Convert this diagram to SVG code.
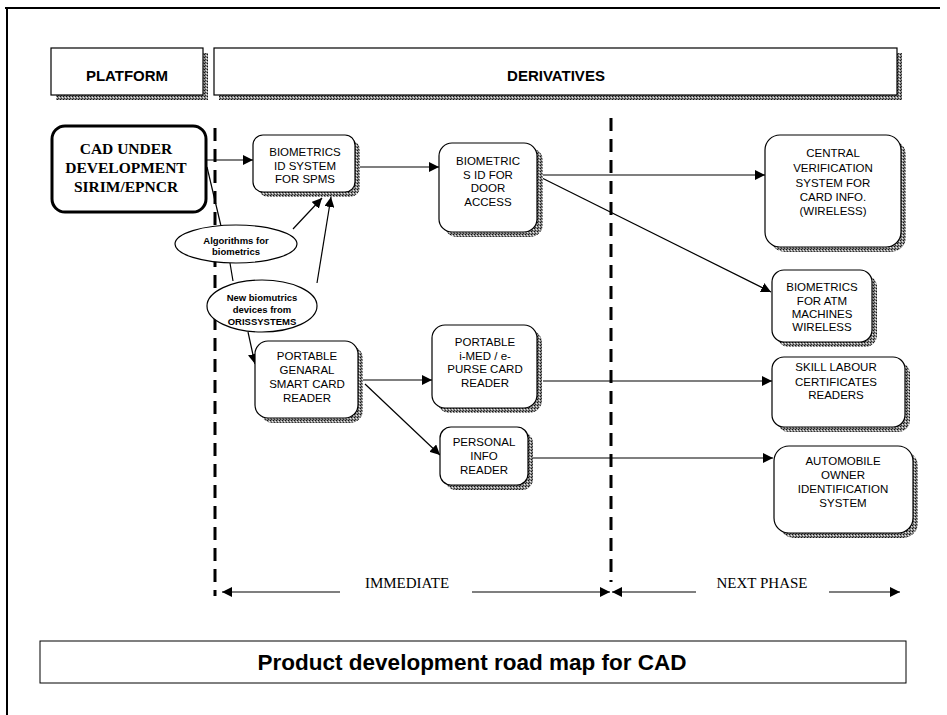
<svg xmlns="http://www.w3.org/2000/svg" width="947" height="715" viewBox="0 0 947 715">
<style>
.box{fill:#fff;stroke:#000;stroke-width:1.2}
.sh{fill:url(#dith)}
.t{font-family:"Liberation Sans",Arial,sans-serif;font-size:11.5px;text-anchor:middle;fill:#000}
.hd{font-family:"Liberation Sans",Arial,sans-serif;font-size:15px;font-weight:bold;text-anchor:middle}
.el{font-family:"Liberation Sans",Arial,sans-serif;font-size:9.5px;font-weight:bold;text-anchor:middle}
.ph{font-family:"Liberation Serif","Times New Roman",serif;font-size:15px;text-anchor:middle}
.ln{stroke:#000;stroke-width:1.2;fill:none}
.ar{stroke:#000;stroke-width:1.2;fill:none;marker-end:url(#ah)}
.dash{stroke:#000;stroke-width:3;stroke-dasharray:13 8;fill:none}
</style>
<defs>
<pattern id="dith" width="3" height="3" patternUnits="userSpaceOnUse">
<rect width="3" height="3" fill="#8a8a8a"/><rect width="1" height="1" fill="#111"/><rect x="2" y="1" width="1" height="1" fill="#eee"/><rect x="1" y="2" width="1" height="1" fill="#333"/>
</pattern>
<marker id="ah" viewBox="0 0 10 10" refX="10" refY="5" markerWidth="10" markerHeight="10" markerUnits="userSpaceOnUse" orient="auto">
<path d="M0,0 L10,5 L0,10 z" fill="#000"/>
</marker>
</defs>
<rect width="947" height="715" fill="#fff"/>
<g id="frame">
<path d="M5,8 H940" stroke="#000" stroke-width="2"/>
<path d="M7,8 V715" stroke="#000" stroke-width="2"/>
</g>
<g id="platform">
<rect x="56" y="53" width="152" height="47" class="sh"/>
<rect x="51" y="48" width="152" height="47" class="box"/>
<text x="127" y="81" class="hd">PLATFORM</text>
</g>
<g id="derivatives">
<rect x="219" y="53" width="683" height="47" class="sh"/>
<rect x="214" y="48" width="683" height="47" class="box"/>
<text x="556" y="81" class="hd">DERIVATIVES</text>
</g>
<g id="dividers">
<line x1="215" y1="128" x2="215" y2="596" class="dash"/>
<line x1="611" y1="118" x2="611" y2="582" class="dash"/>
</g>
<g id="connectors">
<line x1="206" y1="160" x2="253" y2="160" class="ar"/>
<line x1="358" y1="167" x2="439" y2="167" class="ar"/>
<line x1="537" y1="175" x2="765" y2="175" class="ar"/>
<line x1="540" y1="177" x2="771" y2="292" class="ar"/>
<line x1="207" y1="167" x2="221" y2="226" class="ln"/>
<line x1="230" y1="263" x2="233" y2="281" class="ln"/>
<line x1="293" y1="229" x2="322" y2="198" class="ar"/>
<line x1="317" y1="283" x2="331" y2="197" class="ar"/>
<line x1="248" y1="332" x2="255" y2="364" class="ar"/>
<line x1="363" y1="380" x2="432" y2="380" class="ar"/>
<line x1="365" y1="384" x2="440" y2="455" class="ar"/>
<line x1="543" y1="381" x2="772" y2="381" class="ar"/>
<line x1="533" y1="458" x2="773" y2="458" class="ar"/>
<line x1="340" y1="592" x2="222" y2="592" class="ar"/>
<line x1="472" y1="592" x2="610" y2="592" class="ar"/>
<line x1="696" y1="592" x2="612" y2="592" class="ar"/>
<line x1="829" y1="592" x2="900" y2="592" class="ar"/>
</g>
<g id="cad">
<rect x="52" y="126" width="154" height="86" rx="13" fill="#fff" stroke="#000" stroke-width="3"/>
<text x="126" y="154" font-family="'Liberation Serif','Times New Roman',serif" font-size="15.5" font-weight="bold" text-anchor="middle">CAD UNDER</text>
<text x="126" y="173" font-family="'Liberation Serif','Times New Roman',serif" font-size="15.5" font-weight="bold" text-anchor="middle">DEVELOPMENT</text>
<text x="126" y="192" font-family="'Liberation Serif','Times New Roman',serif" font-size="15.5" font-weight="bold" text-anchor="middle">SIRIM/EPNCR</text>
</g>
<g id="spms">
<rect x="258" y="140" width="102" height="57" rx="10" class="sh"/>
<rect x="253" y="135" width="102" height="57" rx="10" class="box"/>
<text class="t" x="305" y="156">BIOMETRICS</text>
<text class="t" x="305" y="169.5">ID SYSTEM</text>
<text class="t" x="305" y="183">FOR SPMS</text>
</g>
<g id="door">
<rect x="444" y="148" width="99" height="89" rx="13" class="sh"/>
<rect x="439" y="143" width="98" height="89" rx="13" class="box"/>
<text class="t" x="488" y="165">BIOMETRIC</text>
<text class="t" x="488" y="178.5">S ID FOR</text>
<text class="t" x="488" y="192">DOOR</text>
<text class="t" x="488" y="206">ACCESS</text>
</g>
<g id="central">
<rect x="770" y="140" width="136" height="112" rx="15" class="sh"/>
<rect x="765" y="135" width="136" height="112" rx="15" class="box"/>
<text class="t" x="833" y="157">CENTRAL</text>
<text class="t" x="833" y="172">VERIFICATION</text>
<text class="t" x="833" y="187">SYSTEM FOR</text>
<text class="t" x="833" y="201">CARD INFO.</text>
<text class="t" x="833" y="215">(WIRELESS)</text>
</g>
<g id="atm">
<rect x="777" y="275" width="100" height="72" rx="12" class="sh"/>
<rect x="772" y="270" width="100" height="72" rx="12" class="box"/>
<text class="t" x="822" y="291">BIOMETRICS</text>
<text class="t" x="822" y="304.5">FOR ATM</text>
<text class="t" x="822" y="318">MACHINES</text>
<text class="t" x="822" y="331">WIRELESS</text>
</g>
<g id="skill">
<rect x="777" y="362" width="133" height="70" rx="12" class="sh"/>
<rect x="772" y="357" width="133" height="70" rx="12" class="box"/>
<text class="t" x="836" y="371">SKILL LABOUR</text>
<text class="t" x="836" y="386">CERTIFICATES</text>
<text class="t" x="836" y="399">READERS</text>
</g>
<g id="automobile">
<rect x="779" y="451" width="139" height="87" rx="15" class="sh"/>
<rect x="774" y="446" width="139" height="87" rx="15" class="box"/>
<text class="t" x="843" y="465">AUTOMOBILE</text>
<text class="t" x="843" y="479">OWNER</text>
<text class="t" x="843" y="493">IDENTIFICATION</text>
<text class="t" x="843" y="507">SYSTEM</text>
</g>
<g id="general">
<rect x="260" y="346" width="103" height="77" rx="13" class="sh"/>
<rect x="255" y="341" width="103" height="77" rx="13" class="box"/>
<text class="t" x="307" y="360">PORTABLE</text>
<text class="t" x="307" y="374">GENARAL</text>
<text class="t" x="307" y="388">SMART CARD</text>
<text class="t" x="307" y="401.5">READER</text>
</g>
<g id="imed">
<rect x="437" y="330" width="105" height="83" rx="13" class="sh"/>
<rect x="432" y="325" width="105" height="83" rx="13" class="box"/>
<text class="t" x="485" y="346">PORTABLE</text>
<text class="t" x="485" y="359.5">i-MED / e-</text>
<text class="t" x="485" y="373">PURSE CARD</text>
<text class="t" x="485" y="386.5">READER</text>
</g>
<g id="personal">
<rect x="445" y="432" width="88" height="58" rx="11" class="sh"/>
<rect x="440" y="427" width="88" height="58" rx="11" class="box"/>
<text class="t" x="484" y="446">PERSONAL</text>
<text class="t" x="484" y="460">INFO</text>
<text class="t" x="484" y="474">READER</text>
</g>
<g id="algorithms">
<ellipse cx="236" cy="244" rx="61" ry="19" class="box"/>
<text class="el" x="236" y="244">Algorithms for</text>
<text class="el" x="236" y="255">biometrics</text>
</g>
<g id="devices">
<ellipse cx="262" cy="306" rx="55" ry="26" class="box"/>
<text class="el" x="262" y="301">New biomutrics</text>
<text class="el" x="262" y="313">devices from</text>
<text class="el" x="262" y="325">ORISSYSTEMS</text>
</g>
<g id="phases">
<text class="ph" x="407" y="588">IMMEDIATE</text>
<text class="ph" x="762" y="588">NEXT PHASE</text>
</g>
<g id="title">
<rect x="40" y="641" width="866" height="42" fill="#fff" stroke="#000" stroke-width="1"/>
<text x="472" y="670" font-family="'Liberation Sans',Arial,sans-serif" font-size="22.5" font-weight="bold" text-anchor="middle">Product development road map for CAD</text>
</g>
</svg>
